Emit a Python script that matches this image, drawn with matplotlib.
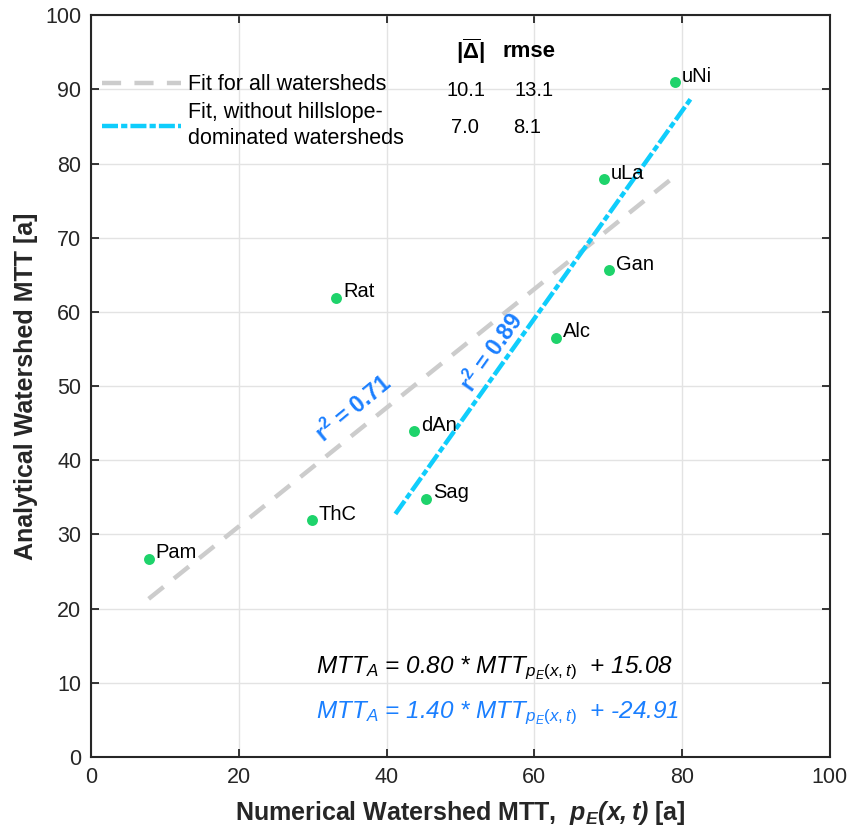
import matplotlib
matplotlib.use("Agg")
import matplotlib.pyplot as plt
import numpy as np

plt.rcParams['font.family'] = ['Liberation Sans', 'DejaVu Sans']
plt.rcParams['mathtext.fontset'] = 'custom'
plt.rcParams['mathtext.rm'] = 'Liberation Sans'
plt.rcParams['mathtext.it'] = 'Liberation Sans:italic'
plt.rcParams['mathtext.bf'] = 'Liberation Sans:bold'
plt.rcParams['mathtext.bfit'] = 'Liberation Sans:italic:bold'

# Data
names = ["Pam", "ThC", "Rat", "dAn", "Sag", "Alc", "Gan", "uLa", "uNi"]
numerical = [7.8, 29.9, 33.2, 43.7, 45.4, 62.9, 70.1, 69.4, 79.0]
analytical = [26.7, 31.9, 61.9, 43.9, 34.8, 56.5, 65.6, 77.9, 91.0]

fit_all = (0.80, 15.08)
fit_sub = (1.40, -24.91)
fit_all_range = [7.8, 79.0]
fit_sub_range = [41.2, 81.3]
r2_all = "0.71"
r2_sub = "0.89"
stats_all = ("10.1", "13.1")
stats_sub = ("7.0", "8.1")

fig = plt.figure(figsize=(8.51, 8.38), dpi=100)
ax = fig.add_axes([0.107, 0.0967, 0.868, 0.885])

ax.set_xlim(0, 100)
ax.set_ylim(0, 100)
ax.set_xticks(np.arange(0, 101, 20))
ax.set_yticks(np.arange(0, 101, 10))
ax.grid(True, color='#e3e3e3', linewidth=1.0, zorder=0)
ax.set_axisbelow(True)
ax.tick_params(direction='in', length=6, width=1.3, top=True, right=True,
               labelsize=15.5, colors='#262626', pad=7)
for sp in ax.spines.values():
    sp.set_linewidth(1.5)
    sp.set_color('#262626')

xa = np.array(fit_all_range)
l1, = ax.plot(xa, fit_all[0] * xa + fit_all[1], color='#cccccc', lw=3.2,
              dashes=(4.3, 3.0), zorder=2, label='Fit for all watersheds')
xs = np.array(fit_sub_range)
l2, = ax.plot(xs, fit_sub[0] * xs + fit_sub[1], color='#0fcdfc', lw=3.2,
              dashes=(3.6, 0.7, 1.4, 0.7), zorder=2,
              label='Fit, without hillslope-\ndominated watersheds')

ax.scatter(numerical, analytical, s=62, color='#1ed36b', zorder=3, linewidths=0)
for n, x, y in zip(names, numerical, analytical):
    ax.annotate(n, (x, y), xytext=(7, 6), textcoords='offset pixels',
                fontsize=14.5, ha='left', va='center', zorder=4)

leg = ax.legend(handles=[l1, l2], loc='upper left', frameon=False,
                fontsize=15.5, handlelength=3.7, handletextpad=0.3,
                bbox_to_anchor=(0.0, 0.935), labelspacing=0.3,
                borderaxespad=0.3, borderpad=0.2)
for t in leg.get_texts():
    t.set_linespacing(1.35)

ax.text(0.513, 0.951, r'$\mathbf{|\overline{\Delta}|}$', transform=ax.transAxes,
        fontsize=16, ha='center', va='center')
ax.text(0.593, 0.951, 'rmse', transform=ax.transAxes, fontsize=16,
        fontweight='bold', ha='center', va='center')
ax.text(0.508, 0.899, stats_all[0], transform=ax.transAxes, fontsize=14.5,
        ha='center', va='center')
ax.text(0.600, 0.899, stats_all[1], transform=ax.transAxes, fontsize=14.5,
        ha='center', va='center')
ax.text(0.506, 0.849, stats_sub[0], transform=ax.transAxes, fontsize=14.5,
        ha='center', va='center')
ax.text(0.591, 0.849, stats_sub[1], transform=ax.transAxes, fontsize=14.5,
        ha='center', va='center')

blue = '#1a7fff'
ax.text(35.6, 47.0, r'r$^{\mathbf{2}}$ = ' + r2_all,
        color=blue, fontsize=16.5, rotation=39.5, ha='center', va='center',
        rotation_mode='anchor', fontweight='bold')
ax.text(54.3, 54.5, r'r$^{\mathbf{2}}$ = ' + r2_sub,
        color=blue, fontsize=16.5, rotation=54.7, ha='center', va='center',
        rotation_mode='anchor', fontweight='bold')

eq1 = 'MTT$_A$ = %.2f * MTT$_{p_E(x,t)}$  + %.2f' % fit_all
eq2 = 'MTT$_A$ = %.2f * MTT$_{p_E(x,t)}$  + %.2f' % fit_sub
ax.text(30.5, 11.3, eq1, fontsize=17.5, style='italic', ha='left',
        va='baseline', color='black')
ax.text(30.5, 5.25, eq2, fontsize=17.5, style='italic', ha='left',
        va='baseline', color=blue)

ax.set_xlabel(r'Numerical Watershed MTT,  $\mathbfit{p_E(x,t)}$ [a]',
              fontsize=18, fontweight='bold', color='#262626', labelpad=8)
ax.set_ylabel('Analytical Watershed MTT [a]', fontsize=18,
              fontweight='bold', color='#262626', labelpad=5)

fig.savefig('out.png', dpi=100)
